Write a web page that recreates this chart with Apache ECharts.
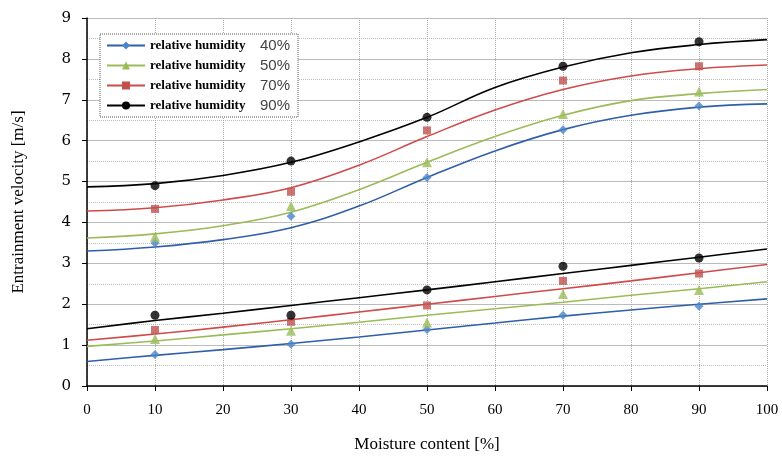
<!DOCTYPE html>
<html><head><meta charset="utf-8">
<script src="https://cdn.jsdelivr.net/npm/echarts@6/dist/echarts.min.js"></script>
<style>html,body{margin:0;padding:0;background:#fff}#c{width:782px;height:464px}</style>
</head><body><div id="c"></div>
<script>
const humidities = ['40%', '50%', '70%', '90%'];
const measuredX = [10, 30, 50, 70, 90];
// measured points, upper group
const upper40 = [3.50, 4.15, 5.10, 6.27, 6.85];
const upper50 = [3.65, 4.40, 5.47, 6.65, 7.20];
const upper70 = [4.33, 4.75, 6.25, 7.47, 7.82];
const upper90 = [4.90, 5.50, 6.57, 7.82, 8.42];
// measured points, lower group
const lower40 = [0.77, 1.02, 1.38, 1.73, 1.95];
const lower50 = [1.15, 1.35, 1.55, 2.25, 2.35];
const lower70 = [1.37, 1.57, 1.97, 2.57, 2.75];
const lower90 = [1.73, 1.73, 2.35, 2.93, 3.13];
// fitted curves
const curveX = [0, 10, 20, 30, 40, 50, 60, 70, 80, 90, 100];
const fitUpper40 = [3.30, 3.40, 3.58, 3.87, 4.40, 5.10, 5.75, 6.27, 6.62, 6.82, 6.90];
const fitUpper50 = [3.62, 3.72, 3.92, 4.25, 4.80, 5.47, 6.10, 6.62, 6.98, 7.15, 7.25];
const fitUpper70 = [4.28, 4.36, 4.55, 4.85, 5.40, 6.10, 6.75, 7.25, 7.58, 7.76, 7.85];
const fitUpper90 = [4.87, 4.95, 5.15, 5.47, 5.97, 6.57, 7.30, 7.80, 8.15, 8.35, 8.47];
const fitLower40 = [0.60, 0.75, 0.89, 1.04, 1.20, 1.37, 1.54, 1.71, 1.86, 2.00, 2.13];
const fitLower50 = [0.97, 1.10, 1.25, 1.40, 1.56, 1.73, 1.89, 2.05, 2.22, 2.38, 2.55];
const fitLower70 = [1.12, 1.27, 1.44, 1.62, 1.81, 2.00, 2.19, 2.38, 2.57, 2.77, 2.97];
const fitLower90 = [1.40, 1.60, 1.78, 1.97, 2.16, 2.35, 2.55, 2.75, 2.95, 3.15, 3.35];
const xTicks = [0, 10, 20, 30, 40, 50, 60, 70, 80, 90, 100];
const yTicks = [0, 1, 2, 3, 4, 5, 6, 7, 8, 9];

const lineColors = ['#2f5fa8', '#9bbb59', '#d04a4a', '#000000'];
const markColors = ['#4a86c8', '#9bbb59', '#c0504d', '#000000'];
const symbols = ['diamond', 'triangle', 'rect', 'circle'];
const symSizes = [9, 10, 8, 9];
const upperPts = [upper40, upper50, upper70, upper90];
const lowerPts = [lower40, lower50, lower70, lower90];
const upperFits = [fitUpper40, fitUpper50, fitUpper70, fitUpper90];
const lowerFits = [fitLower40, fitLower50, fitLower70, fitLower90];

const zip = (xs, ys) => xs.map((x, i) => [x, ys[i]]);
const series = [];
humidities.forEach((h, i) => {
  // legend-only series
  series.push({ name: h, type: 'line', data: [], symbol: symbols[i], symbolSize: symSizes[i],
    lineStyle: { color: lineColors[i], width: 3 }, itemStyle: { color: markColors[i] } });
  [upperFits[i], lowerFits[i]].forEach(f => series.push({
    type: 'line', data: zip(curveX, f), smooth: 0.4, symbol: 'none', silent: true,
    lineStyle: { color: lineColors[i], width: 1.6 }, z: 2
  }));
  [upperPts[i], lowerPts[i]].forEach(p => series.push({
    type: 'scatter', data: zip(measuredX, p), symbol: symbols[i], symbolSize: symSizes[i],
    itemStyle: { color: markColors[i] }, z: 3
  }));
});

const chart = echarts.init(document.getElementById('c'));
chart.setOption({
  animation: false,
  backgroundColor: '#fff',
  grid: { left: 87, right: 15, top: 18, bottom: 78 },
  legend: {
    data: humidities, orient: 'vertical', left: 100, top: 34,
    itemWidth: 38, itemHeight: 10, itemGap: 5,
    backgroundColor: '#fff', borderColor: '#555', borderWidth: 1, borderType: 'dotted',
    padding: [4, 8, 4, 6],
    formatter: n => '{a|relative humidity}{b|' + n + '}',
    textStyle: { rich: {
      a: { fontFamily: 'Liberation Serif', fontSize: 13, fontWeight: 'bold', color: '#000', width: 110, height: 15 },
      b: { fontFamily: 'Liberation Sans', fontSize: 15, color: '#444', height: 15 }
    } }
  },
  xAxis: {
    type: 'value', min: 0, max: 100, interval: 10,
    name: 'Moisture content [%]', nameLocation: 'middle', nameGap: 50,
    nameTextStyle: { fontFamily: 'Liberation Serif', fontSize: 17, color: '#000' },
    axisLine: { onZero: false, lineStyle: { color: '#000', width: 1.5 } },
    axisTick: { show: true, length: 5, lineStyle: { color: '#000' } },
    axisLabel: { margin: 17, fontFamily: 'Liberation Serif', fontSize: 15, color: '#000',
      formatter: v => xTicks.includes(v) ? String(v) : '' },
    splitLine: { show: true, lineStyle: { color: '#aaa', type: 'dotted' } }
  },
  yAxis: {
    type: 'value', min: 0, max: 9, interval: 1,
    name: 'Entrainment velocity [m/s]', nameLocation: 'middle', nameGap: 60,
    nameTextStyle: { fontFamily: 'Liberation Serif', fontSize: 17, color: '#000' },
    axisLine: { show: true, lineStyle: { color: '#000', width: 1.5 } },
    axisTick: { show: true, length: 5, lineStyle: { color: '#000' } },
    minorTick: { show: false, splitNumber: 2 },
    axisLabel: { margin: 16, fontFamily: 'DejaVu Serif', fontSize: 15, color: '#000',
      formatter: v => yTicks.includes(v) ? String(v) : '' },
    splitLine: { show: true, lineStyle: { color: '#bbb', width: 1 } },
    minorSplitLine: { show: true, lineStyle: { color: '#bbb', type: 'dotted' } }
  },
  series: series
});
</script></body></html>
